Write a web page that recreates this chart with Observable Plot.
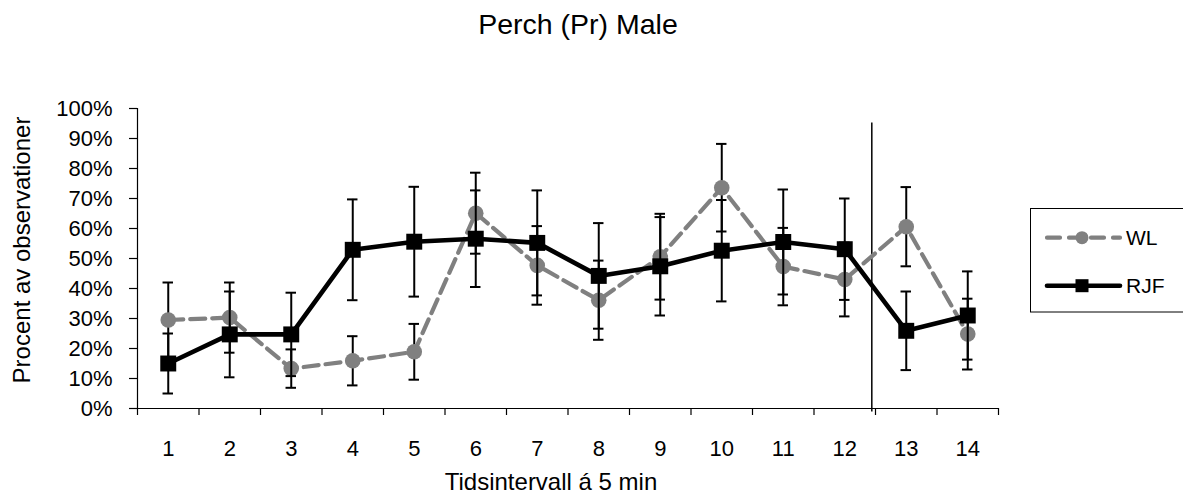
<!DOCTYPE html>
<html><head><meta charset="utf-8">
<script src="https://cdn.jsdelivr.net/npm/d3@7"></script>
<script src="https://cdn.jsdelivr.net/npm/@observablehq/plot@0.6"></script>
<style>
body{margin:0;background:#fff;}
#wrap{position:relative;width:1183px;height:499px;font-family:"Liberation Sans",Arial,sans-serif;overflow:hidden;}
#wrap > svg{position:absolute;left:0;top:0;}
</style></head><body><div id="wrap"></div>
<script>
// ---- data ----
const intervals = [1,2,3,4,5,6,7,8,9,10,11,12,13,14];
const wlValues  = [29.5, 30.3, 13.3, 15.9, 18.9, 65.1, 47.7, 36.1, 50.6, 73.6, 47.3, 43.0, 60.6, 24.8];
const wlErrors  = [12.5, 11.7,  6.4,  8.2,  9.3, 13.5, 13.1, 13.2, 14.3, 14.6, 12.9, 12.3, 13.2, 11.8];
const rjfValues = [15.0, 24.7, 24.7, 52.9, 55.6, 56.6, 55.2, 44.2, 47.4, 52.6, 55.5, 53.1, 25.9, 31.0];
const rjfErrors = [10.0, 14.3, 13.9, 16.8, 18.3, 16.1, 17.5, 17.6, 16.4, 16.9, 17.5, 16.9, 13.1, 14.7];
const yTicks = [0,10,20,30,40,50,60,70,80,90,100];
const separatorAt = [12.44];
const seriesNames = ["WL", "RJF"];
const titleText = "Perch (Pr) Male";
const xLabel = "Tidsintervall á 5 min";
const yLabel = "Procent av observationer";

// ---- build ----
const wl = intervals.map((t, i) => ({t, v: wlValues[i], e: wlErrors[i]}));
const rjf = intervals.map((t, i) => ({t, v: rjfValues[i], e: rjfErrors[i]}));
const boundaries = [0, ...intervals].map(d => d + 0.5);
const cap = 0.085;
const gray = "#808080";

function errorBars(data) {
  return [
    Plot.ruleX(data, {x: "t", y1: d => d.v - d.e, y2: d => d.v + d.e, stroke: "#000", strokeWidth: 2}),
    Plot.ruleY(data, {y: d => d.v + d.e, x1: d => d.t - cap, x2: d => d.t + cap, stroke: "#000", strokeWidth: 2}),
    Plot.ruleY(data, {y: d => d.v - d.e, x1: d => d.t - cap, x2: d => d.t + cap, stroke: "#000", strokeWidth: 2})
  ];
}

const chart = Plot.plot({
  width: 1183, height: 499,
  marginTop: 108, marginBottom: 91, marginLeft: 137, marginRight: 185,
  style: {fontFamily: "'Liberation Sans', Arial, sans-serif", fontSize: "22px", color: "#000", background: "transparent", overflow: "visible"},
  x: {domain: [0.5, 14.5]},
  y: {domain: [0, 100]},
  marks: [
    Plot.axisY({ticks: yTicks, tickSize: 8, tickPadding: 17, tickFormat: d => d + "%", label: null, fontSize: 22, strokeWidth: 1.2}),
    Plot.axisX({ticks: boundaries, tickSize: 7, tickFormat: () => "", label: null, strokeWidth: 1.2}),
    Plot.axisX({ticks: intervals, tickSize: 0, tickPadding: 32, tickFormat: d => String(d), label: null, fontSize: 22}),
    Plot.ruleX([0.5], {y1: 0, y2: 100, stroke: "#000", strokeWidth: 1.2}),
    Plot.ruleY([0], {x1: 0.5, x2: 14.5, stroke: "#000", strokeWidth: 1.2}),
    Plot.ruleX(separatorAt, {y1: -1.2, y2: 95.2, stroke: "#000", strokeWidth: 1.5}),
    ...errorBars(wl),
    Plot.line(wl, {x: "t", y: "v", stroke: gray, strokeWidth: 4.2, strokeDasharray: "15,7"}),
    Plot.dot(wl, {x: "t", y: "v", r: 7.8, fill: gray, stroke: null}),
    ...errorBars(rjf),
    Plot.line(rjf, {x: "t", y: "v", stroke: "#000", strokeWidth: 4.6}),
    Plot.dot(rjf, {x: "t", y: "v", r: 9, symbol: "square", fill: "#000", stroke: null})
  ]
});
const wrap = document.getElementById("wrap");
wrap.appendChild(chart);

// ---- titles and legend (overlay) ----
const ns = "http://www.w3.org/2000/svg";
const ov = d3.select(wrap).append("svg").attr("width", 1183).attr("height", 499)
  .style("font-family", "'Liberation Sans', Arial, sans-serif");
ov.append("text").attr("x", 578).attr("y", 33.5).attr("text-anchor", "middle")
  .attr("font-size", 28.5).text(titleText);
ov.append("text").attr("x", 551).attr("y", 490).attr("text-anchor", "middle")
  .attr("font-size", 24).text(xLabel);
ov.append("text").attr("transform", "translate(30,250) rotate(-90)").attr("text-anchor", "middle")
  .attr("font-size", 24).text(yLabel);

const lg = ov.append("g");
lg.append("rect").attr("x", 1030.5).attr("y", 208.5).attr("width", 170).attr("height", 103.5)
  .attr("fill", "none").attr("stroke", "#000").attr("stroke-width", 1);
const rows = [
  {name: seriesNames[0], y: 237.7, color: gray, dash: "15,7", sw: 4.2, sym: "circle"},
  {name: seriesNames[1], y: 285.7, color: "#000", dash: null, sw: 4.6, sym: "square"}
];
rows.forEach(r => {
  const l = lg.append("line").attr("x1", 1047).attr("x2", 1120).attr("y1", r.y).attr("y2", r.y)
    .attr("stroke", r.color).attr("stroke-width", r.sw).attr("stroke-linecap", "round");
  if (r.dash) l.attr("stroke-dasharray", "13,9");
  if (r.sym === "circle") lg.append("circle").attr("cx", 1082).attr("cy", r.y).attr("r", 6.5).attr("fill", r.color);
  else lg.append("rect").attr("x", 1075.5).attr("y", r.y - 6.5).attr("width", 13).attr("height", 13).attr("fill", r.color);
  lg.append("text").attr("x", 1126).attr("y", r.y + 4 + 3.5).attr("font-size", 21).text(r.name);
});
</script></body></html>
